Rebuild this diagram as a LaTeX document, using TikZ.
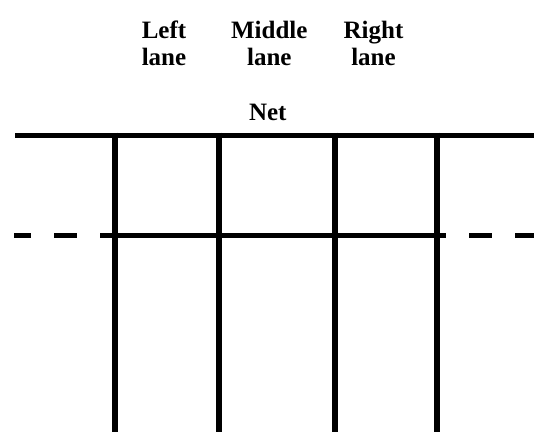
\documentclass[tikz,border=0pt]{standalone}
\usepackage{fontspec}
\setmainfont{Liberation Serif}
\begin{document}
\begin{tikzpicture}[x=1pt,y=-1pt,
  lbl/.style={font=\fontsize{25}{27}\selectfont\bfseries, inner sep=0pt, anchor=base, align=center},
  court/.style={line width=5.5pt, line cap=butt}]
\useasboundingbox (0,0) rectangle (534,432);
% labels
\node[lbl] (left)  at (164,38.3) {Left};
\node[lbl] (leftb)  at (164,65) {lane};
\node[lbl] (mid)   at (269.3,38.3) {Middle};
\node[lbl] (midb)   at (269.3,65) {lane};
\node[lbl] (right) at (373.5,38.3) {Right};
\node[lbl] (rightb) at (373.5,65) {lane};
\node[lbl] (net)   at (267.8,120) {Net};
% net line
\coordinate (nl) at (15,135.3);
\coordinate (nr) at (534,135.3);
\draw[court] (nl) -- (nr);
% vertical lines
\foreach \x/\n in {115/a,219/b,335/c,437/d}{
  \coordinate (t\n) at (\x,132.6);
  \coordinate (b\n) at (\x,432);
  \draw[court, line width=6pt] (t\n) -- (b\n);
}
% service line: solid centre part and dashes
\coordinate (sl) at (100,235.4);
\coordinate (sr) at (446,235.4);
\draw[court] (sl) -- (sr);
\foreach \a/\b in {14/31,54/77,469/492,515/534}{
  \draw[court] (\a,235.4) -- (\b,235.4);
}
\end{tikzpicture}
\end{document}
